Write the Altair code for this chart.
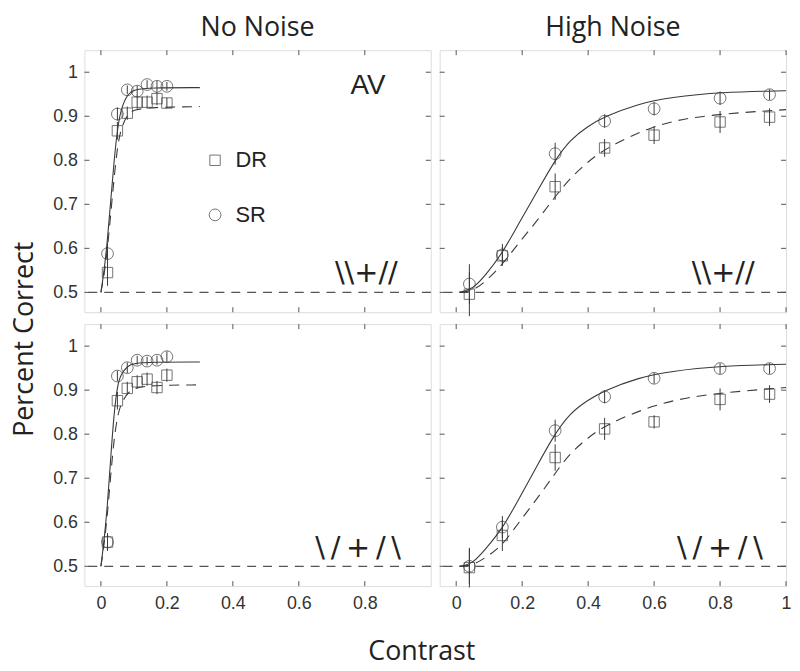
import altair as alt
import pandas as pd

# ---------------- data ----------------
contrast_nn = [0.02, 0.05, 0.08, 0.11, 0.14, 0.17, 0.20]
contrast_hn = [0.04, 0.14, 0.30, 0.45, 0.60, 0.80, 0.95]

# No Noise, \\+//
tl_sr = [0.588, 0.905, 0.960, 0.957, 0.972, 0.968, 0.968]
tl_dr = [0.545, 0.867, 0.907, 0.932, 0.932, 0.940, 0.930]
tl_sr_err = [0.025, 0.015, 0.010, 0.012, 0.010, 0.012, 0.010]
tl_dr_err = [0.030, 0.020, 0.015, 0.015, 0.015, 0.015, 0.012]

# No Noise, \/+/\
bl_sr = [0.555, 0.932, 0.951, 0.968, 0.966, 0.968, 0.976]
bl_dr = [0.555, 0.876, 0.904, 0.919, 0.925, 0.906, 0.934]
bl_sr_err = [0.020, 0.012, 0.012, 0.010, 0.010, 0.010, 0.012]
bl_dr_err = [0.020, 0.020, 0.015, 0.015, 0.015, 0.015, 0.015]

# High Noise, \\+//
tr_sr = [0.519, 0.585, 0.815, 0.889, 0.917, 0.941, 0.949]
tr_dr = [0.496, 0.583, 0.740, 0.828, 0.857, 0.887, 0.898]
tr_sr_err = [0.045, 0.025, 0.025, 0.015, 0.015, 0.015, 0.012]
tr_dr_err = [0.050, 0.020, 0.030, 0.020, 0.020, 0.025, 0.020]

# High Noise, \/+/\
br_sr = [0.500, 0.589, 0.808, 0.885, 0.927, 0.949, 0.949]
br_dr = [0.497, 0.570, 0.747, 0.812, 0.828, 0.879, 0.891]
br_sr_err = [0.040, 0.025, 0.025, 0.015, 0.012, 0.012, 0.012]
br_dr_err = [0.045, 0.035, 0.030, 0.025, 0.015, 0.025, 0.020]

# fitted curves (read as points from the picture)
fit_c_nn = [0.0, 0.01, 0.02, 0.03, 0.04, 0.05, 0.06, 0.08, 0.10, 0.15, 0.30]
tl_fit_sr = [0.50, 0.55, 0.62, 0.71, 0.80, 0.87, 0.915, 0.950, 0.961, 0.965, 0.965]
tl_fit_dr = [0.50, 0.54, 0.60, 0.68, 0.76, 0.83, 0.870, 0.905, 0.915, 0.920, 0.922]
bl_fit_sr = [0.50, 0.56, 0.64, 0.75, 0.85, 0.91, 0.935, 0.955, 0.961, 0.964, 0.964]
bl_fit_dr = [0.50, 0.55, 0.62, 0.71, 0.79, 0.84, 0.868, 0.893, 0.905, 0.911, 0.912]

fit_c_hn_sr = [0.01, 0.05, 0.09, 0.14, 0.19, 0.245, 0.295, 0.345, 0.40, 0.45, 0.55, 0.65, 0.80, 1.0]
fit_c_hn_dr = [0.01, 0.05, 0.09, 0.14, 0.19, 0.245, 0.295, 0.345, 0.40, 0.45, 0.60, 0.75, 1.0]
tr_fit_sr = [0.50, 0.507, 0.54, 0.589, 0.657, 0.728, 0.795, 0.847, 0.878, 0.899, 0.928, 0.943, 0.955, 0.958]
tr_fit_dr = [0.50, 0.503, 0.525, 0.563, 0.613, 0.662, 0.713, 0.759, 0.797, 0.826, 0.881, 0.903, 0.915]
br_fit_sr = [0.50, 0.505, 0.54, 0.585, 0.653, 0.728, 0.796, 0.848, 0.878, 0.899, 0.928, 0.943, 0.955, 0.959]
br_fit_dr = [0.50, 0.502, 0.52, 0.547, 0.600, 0.653, 0.706, 0.757, 0.792, 0.820, 0.868, 0.891, 0.906]

stim_top = "\\\\+//"
stim_bottom = "\\\u2009/\u2009+\u2009/\u2009\\"

x_ticks_left = [0, 0.2, 0.4, 0.6, 0.8]
x_ticks_right = [0, 0.2, 0.4, 0.6, 0.8, 1.0]
y_ticks = [0.5, 0.6, 0.7, 0.8, 0.9, 1.0]

col_titles = ["No Noise", "High Noise"]

# ---------------- styling ----------------
W, H = 349, 264
XDOM = [-0.05, 1.0]
YDOM = [0.455, 1.05]
INK = "#222222"
LINE = "#3a3a3a"
AX = "#555555"
TICK_FONT = "Liberation Sans"
TITLE_FONT = "Open Sans"


def panel(cx, sr, dr, sr_err, dr_err, fcs, fsr, fcd, fdr, stim, stim_x, stim_y,
          xticks, show_x, show_y, title=None, legend=False):
    if show_x:
        xaxis = alt.Axis(values=xticks, format="~g", labelFont=TICK_FONT, labelFontSize=18,
                         labelColor="#333", ticks=False, domain=False, grid=False,
                         labelPadding=9, title=None, labelFlush=False)
    else:
        xaxis = None
    if show_y:
        yaxis = alt.Axis(values=y_ticks, format="~g", labelFont=TICK_FONT, labelFontSize=18,
                         labelColor="#333", ticks=False, domain=False, grid=False,
                         labelPadding=7, title=None, labelFlush=False)
    else:
        yaxis = None
    xe = alt.X("c:Q", scale=alt.Scale(domain=XDOM, nice=False, zero=False), axis=xaxis)
    ye = alt.Y("p:Q", scale=alt.Scale(domain=YDOM, nice=False, zero=False), axis=yaxis)

    layers = []
    # chance line
    layers.append(alt.Chart(pd.DataFrame({"p": [0.5]})).mark_rule(
        color=AX, strokeWidth=1.2, strokeDash=[9, 7]).encode(y=ye))
    # inward ticks
    xt = pd.DataFrame({"c": xticks})
    yt = pd.DataFrame({"p": y_ticks})
    layers.append(alt.Chart(xt).mark_rule(color=AX).encode(x=xe, y=alt.value(H), y2=alt.value(H - 5)))
    layers.append(alt.Chart(xt).mark_rule(color=AX).encode(x=xe, y=alt.value(0), y2=alt.value(5)))
    layers.append(alt.Chart(yt).mark_rule(color=AX).encode(y=ye, x=alt.value(0), x2=alt.value(5)))
    layers.append(alt.Chart(yt).mark_rule(color=AX).encode(y=ye, x=alt.value(W), x2=alt.value(W - 5)))
    # fits
    layers.append(alt.Chart(pd.DataFrame({"c": fcs, "p": fsr})).mark_line(
        color=LINE, strokeWidth=1.1, interpolate="basis").encode(x=xe, y=ye))
    layers.append(alt.Chart(pd.DataFrame({"c": fcd, "p": fdr})).mark_line(
        color=LINE, strokeWidth=1.1, strokeDash=[10, 7], interpolate="basis").encode(x=xe, y=ye))
    # error bars
    eb = pd.DataFrame({
        "c": cx + cx,
        "lo": [v - e for v, e in zip(sr, sr_err)] + [v - e for v, e in zip(dr, dr_err)],
        "hi": [v + e for v, e in zip(sr, sr_err)] + [v + e for v, e in zip(dr, dr_err)],
    })
    layers.append(alt.Chart(eb).mark_rule(color=LINE, strokeWidth=1).encode(
        x=xe, y=alt.Y("lo:Q", scale=alt.Scale(domain=YDOM, nice=False, zero=False), axis=yaxis),
        y2="hi:Q"))
    # points
    layers.append(alt.Chart(pd.DataFrame({"c": cx, "p": dr})).mark_point(
        shape="square", filled=False, size=110, color=LINE, strokeWidth=1).encode(x=xe, y=ye))
    layers.append(alt.Chart(pd.DataFrame({"c": cx, "p": sr})).mark_point(
        shape="circle", filled=False, size=140, color=LINE, strokeWidth=1).encode(x=xe, y=ye))
    # stimulus label
    layers.append(alt.Chart(pd.DataFrame({"c": [stim_x], "p": [stim_y], "t": [stim]})).mark_text(
        align="right", baseline="middle", font="DejaVu Sans", fontSize=29, color=INK).encode(
        x=xe, y=ye, text="t:N"))
    if legend:
        layers.append(alt.Chart(pd.DataFrame({"c": [0.346], "p": [0.80]})).mark_point(
            shape="square", filled=False, size=110, color=LINE, strokeWidth=1).encode(x=xe, y=ye))
        layers.append(alt.Chart(pd.DataFrame({"c": [0.346], "p": [0.676]})).mark_point(
            shape="circle", filled=False, size=140, color=LINE, strokeWidth=1).encode(x=xe, y=ye))
        layers.append(alt.Chart(pd.DataFrame({"c": [0.408, 0.408], "p": [0.80, 0.676], "t": ["DR", "SR"]})).mark_text(
            align="left", baseline="middle", font=TICK_FONT, fontSize=22, color=INK).encode(
            x=xe, y=ye, text="t:N"))
        layers.append(alt.Chart(pd.DataFrame({"c": [0.81], "p": [0.968], "t": ["AV"]})).mark_text(
            align="center", baseline="middle", font=TICK_FONT, fontSize=28, color=INK).encode(
            x=xe, y=ye, text="t:N"))

    ch = alt.layer(*layers).properties(width=W, height=H)
    if title:
        ch = ch.properties(title=alt.TitleParams(title, font=TITLE_FONT, fontSize=27,
                                                 fontWeight="normal", color=INK, offset=8,
                                                 anchor="middle"))
    return ch


tl = panel(contrast_nn, tl_sr, tl_dr, tl_sr_err, tl_dr_err, fit_c_nn, tl_fit_sr, fit_c_nn, tl_fit_dr,
           stim_top, 0.90, 0.543, x_ticks_left, False, True, title=col_titles[0], legend=True)
tr = panel(contrast_hn, tr_sr, tr_dr, tr_sr_err, tr_dr_err, fit_c_hn_sr, tr_fit_sr, fit_c_hn_dr, tr_fit_dr,
           stim_top, 0.905, 0.543, x_ticks_right, False, False, title=col_titles[1])
bl = panel(contrast_nn, bl_sr, bl_dr, bl_sr_err, bl_dr_err, fit_c_nn, bl_fit_sr, fit_c_nn, bl_fit_dr,
           stim_bottom, 0.91, 0.541, x_ticks_left, True, True)
br = panel(contrast_hn, br_sr, br_dr, br_sr_err, br_dr_err, fit_c_hn_sr, br_fit_sr, fit_c_hn_dr, br_fit_dr,
           stim_bottom, 0.93, 0.541, x_ticks_right, True, False)

row1 = alt.hconcat(tl, tr, spacing=5)
row2 = alt.hconcat(bl, br, spacing=5)
grid = alt.vconcat(row1, row2, spacing=6).properties(
    title=alt.TitleParams("Contrast", orient="bottom", anchor="middle", font=TITLE_FONT, fontSize=27,
                          fontWeight="normal", color=INK, offset=26))
chart = alt.hconcat(grid).properties(
    title=alt.TitleParams("Percent Correct", orient="left", anchor="middle", font=TITLE_FONT, fontSize=27,
                          fontWeight="normal", color=INK, offset=13),
    padding={"top": 3, "left": 3, "right": 0, "bottom": 0},
).configure_view(stroke=AX, strokeWidth=1).configure(background="white")

chart.save("out.html", embed_options={"renderer": "svg", "actions": False})
